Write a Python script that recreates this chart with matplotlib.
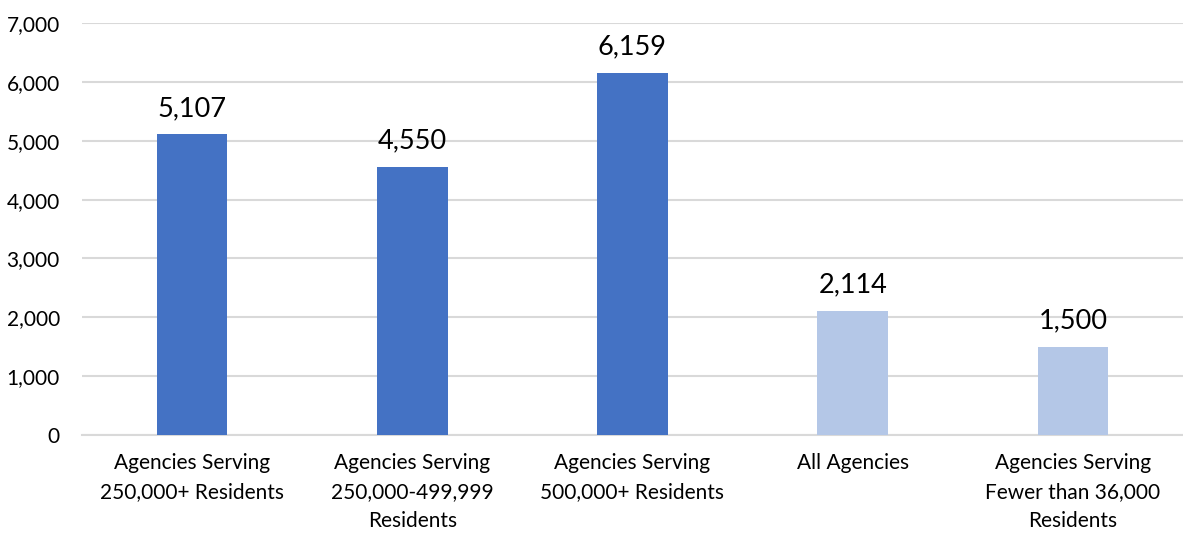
import matplotlib.pyplot as plt

categories = ["Agencies Serving\n250,000+ Residents",
              "Agencies Serving\n250,000-499,999\nResidents",
              "Agencies Serving\n500,000+ Residents",
              "All Agencies",
              "Agencies Serving\nFewer than 36,000\nResidents"]
values = [5107, 4550, 6159, 2114, 1500]
colors = ["#4472C4", "#4472C4", "#4472C4", "#B4C7E7", "#B4C7E7"]
yticks = [0, 1000, 2000, 3000, 4000, 5000, 6000, 7000]

plt.rcParams['font.family'] = ['Lato', 'DejaVu Sans']

fig = plt.figure(figsize=(11.83, 5.36), dpi=100)
ax = fig.add_axes([0.0693, 0.1884, 0.9307, 0.7686])

x = range(len(categories))
bars = ax.bar(x, values, width=0.32, color=colors, zorder=3)
for b, v in zip(bars, values):
    ax.text(b.get_x() + b.get_width() / 2, v + 230, f"{v:,}",
            ha='center', va='bottom', fontsize=19.5, color='#000000')

ax.set_xlim(-0.5, len(categories) - 0.5)
ax.set_ylim(0, 7000)
ax.set_yticks(yticks)
ax.set_yticklabels([f"{t:,}" for t in yticks], fontsize=15)
ax.set_xticks(list(x))
ax.set_xticklabels(categories, fontsize=15, linespacing=1.55)
ax.yaxis.grid(True, color='#D9D9D9', linewidth=1.5, zorder=0)
for s in ['top', 'right', 'left']:
    ax.spines[s].set_visible(False)
ax.spines['bottom'].set_color('#D9D9D9')
ax.spines['bottom'].set_linewidth(1.5)
ax.tick_params(axis='both', length=0)
ax.tick_params(axis='y', pad=16)
ax.tick_params(axis='x', pad=13)

fig.savefig("out.png", dpi=100)
